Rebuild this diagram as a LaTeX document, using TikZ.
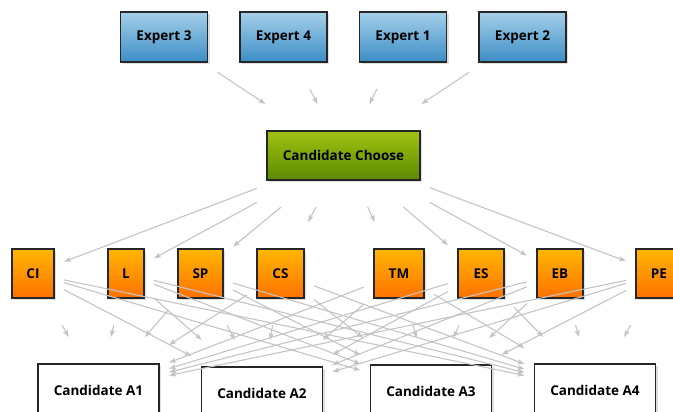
\documentclass[tikz,border=0pt]{standalone}
\usepackage{fontspec}
\setmainfont{Open Sans}
\usetikzlibrary{arrows.meta,shadows}

\definecolor{edgegray}{HTML}{C4C4C4}
\definecolor{bluetop}{HTML}{A6D0E9}
\definecolor{bluebot}{HTML}{3B8DC6}
\definecolor{greentop}{HTML}{A2C212}
\definecolor{greenbot}{HTML}{5A8A00}
\definecolor{orangetop}{HTML}{FFB600}
\definecolor{orangebot}{HTML}{FF7100}

\tikzset{
  box/.style={draw=black!85, line width=1.3pt, inner sep=0pt,
    outer xsep=10pt, outer ysep=27pt,
    font=\fontsize{13.5}{15}\selectfont\bfseries,
    drop shadow={opacity=0.25, shadow xshift=2pt, shadow yshift=-2pt}},
  expertbox/.style={box, minimum width=87pt, minimum height=50pt,
    top color=bluetop, bottom color=bluebot},
  choosebox/.style={box, minimum width=153pt, minimum height=49pt,
    top color=greentop, bottom color=greenbot},
  factorbox/.style={box, minimum height=49pt, minimum width=#1,
    top color=orangetop, bottom color=orangebot},
  candbox/.style={box, minimum width=121pt, minimum height=52pt, fill=white},
  arr/.style={draw=edgegray, line width=1.1pt,
    -{Stealth[length=7pt,width=5pt,inset=1.5pt]}},
}

\begin{document}
\begin{tikzpicture}[x=1pt,y=-1pt]
  \useasboundingbox (0,0) rectangle (673,412);
  \clip (0,0) rectangle (673,412);

  % experts
  \node[expertbox] (e3) at (164,37)   {Expert 3};
  \node[expertbox] (e4) at (283.5,37) {Expert 4};
  \node[expertbox] (e1) at (403,37)   {Expert 1};
  \node[expertbox] (e2) at (522.5,37) {Expert 2};

  % decision node
  \node[choosebox] (cc) at (343.5,155.5) {Candidate Choose};

  % criteria
  \node[factorbox=42pt] (CI) at (33,273.5)    {CI};
  \node[factorbox=36pt] (L)  at (126,273.5)   {L};
  \node[factorbox=45pt] (SP) at (200.5,273.5) {SP};
  \node[factorbox=47pt] (CS) at (280.5,273.5) {CS};
  \node[factorbox=50pt] (TM) at (399,273.5)   {TM};
  \node[factorbox=46pt] (ES) at (481,273.5)   {ES};
  \node[factorbox=46pt] (EB) at (560,273.5)   {EB};
  \node[factorbox=46pt] (PE) at (659,273.5)   {PE};

  % alternatives
  \node[candbox] (a1) at (98.5,390) {Candidate A1};
  \node[candbox] (a2) at (262,393)  {Candidate A2};
  \node[candbox] (a3) at (431,391)  {Candidate A3};
  \node[candbox] (a4) at (595,390)  {Candidate A4};

  % experts feed the decision
  \foreach \e in {e3,e4,e1,e2}
    \draw[arr] (\e) -- (cc);

  % decision splits into criteria
  \foreach \f in {CI,L,SP,CS,TM,ES,EB,PE}
    \draw[arr] (cc) -- (\f);

  % every criterion rates every alternative
  \foreach \f in {CI,L,SP,CS,TM,ES,EB,PE}
    \foreach \a in {a1,a2,a3,a4}
      \draw[arr] (\f) -- (\a);
\end{tikzpicture}
\end{document}
